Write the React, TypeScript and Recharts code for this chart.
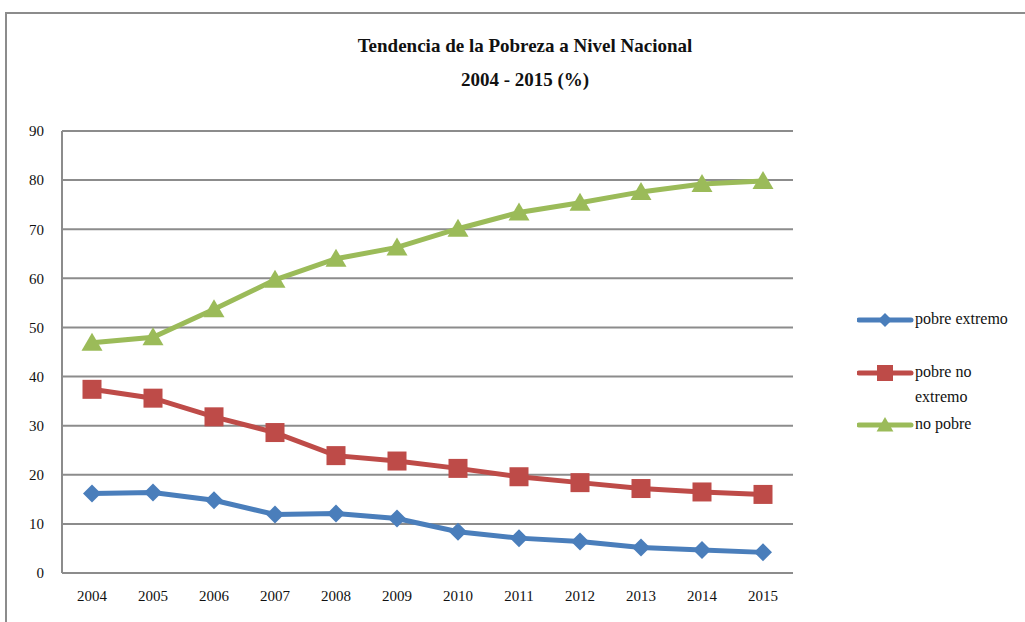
import React from "react";
import { LineChart, Line, XAxis, YAxis, CartesianGrid } from "recharts";

const years = ["2004", "2005", "2006", "2007", "2008", "2009", "2010", "2011", "2012", "2013", "2014", "2015"];
const pobreExtremo = [16.2, 16.4, 14.8, 11.9, 12.1, 11.1, 8.4, 7.1, 6.4, 5.2, 4.7, 4.2];
const pobreNoExtremo = [37.4, 35.6, 31.8, 28.6, 23.9, 22.8, 21.3, 19.6, 18.4, 17.2, 16.5, 16.0];
const noPobre = [46.9, 48.0, 53.7, 59.7, 64.0, 66.3, 70.1, 73.4, 75.4, 77.6, 79.2, 79.8];
const yTicks = [0, 10, 20, 30, 40, 50, 60, 70, 80, 90];

const BLUE = "#4A7EBB";
const RED = "#BE4B48";
const GREEN = "#9BBB59";
const GRID = "#8C8C8C";
const FONT = "'Liberation Serif', 'DejaVu Serif', serif";

const data = years.map((year, i) => ({
  year,
  extremo: pobreExtremo[i],
  noExtremo: pobreNoExtremo[i],
  noPobre: noPobre[i],
}));

// marker shapes, same ones reused in the legend
const diamond = (cx: number, cy: number, r: number, fill: string) => (
  <path d={`M${cx},${cy - r} L${cx + r},${cy} L${cx},${cy + r} L${cx - r},${cy} Z`} fill={fill} />
);
const square = (cx: number, cy: number, r: number, fill: string) => (
  <rect x={cx - r} y={cy - r} width={r * 2} height={r * 2} fill={fill} />
);
const triangle = (cx: number, cy: number, r: number, fill: string) => (
  <path d={`M${cx},${cy - r} L${cx + r * 1.05},${cy + r * 0.8} L${cx - r * 1.05},${cy + r * 0.8} Z`} fill={fill} />
);

const makeDot = (shape: typeof diamond, r: number, fill: string) => (p: any) => (
  <g key={`d-${p.index}`}>{shape(p.cx, p.cy, r, fill)}</g>
);

const LegendItem = ({ top, color, shape, r, lines }: any) => (
  <div style={{ position: "absolute", left: 857, top, height: 0 }}>
    <svg width={58} height={24} style={{ position: "absolute", left: 0, top: -12 }}>
      <line x1={2} y1={12} x2={54} y2={12} stroke={color} strokeWidth={5} strokeLinecap="round" />
      {shape(28, 12, r, color)}
    </svg>
    <div style={{ position: "absolute", left: 58, top: -14, fontSize: 16, lineHeight: "25px", whiteSpace: "nowrap", color: "#111" }}>
      {lines.map((l: string) => (
        <div key={l}>{l}</div>
      ))}
    </div>
  </div>
);

export default function App() {
  return (
    <div style={{ position: "absolute", left: 0, top: 0, width: 1025, height: 622, background: "#fff", fontFamily: FONT, overflow: "hidden" }}>
      <div style={{ position: "absolute", left: 5, top: 12, width: 1030, height: 620, borderTop: `2px solid ${GRID}`, borderLeft: `2px solid ${GRID}` }} />
      <div style={{ position: "absolute", left: 0, width: 1050, top: 35, textAlign: "center", fontSize: 19, fontWeight: 700, color: "#111" }}>
        Tendencia de la Pobreza a Nivel Nacional
      </div>
      <div style={{ position: "absolute", left: 0, width: 1050, top: 69, textAlign: "center", fontSize: 19, fontWeight: 700, color: "#111" }}>
        2004 - 2015 (%)
      </div>
      <div style={{ position: "absolute", left: 0, top: 0 }}>
        <LineChart width={1025} height={622} data={data} margin={{ top: 131, right: 232, bottom: 19, left: 12 }}>
          <CartesianGrid vertical={false} stroke={GRID} strokeWidth={2} />
          <XAxis
            dataKey="year"
            padding={{ left: 30, right: 30 }}
            axisLine={{ stroke: GRID, strokeWidth: 2 }}
            tickLine={false}
            tickMargin={11}
            height={30}
            tick={{ fill: "#111", fontSize: 15, fontFamily: FONT }}
          />
          <YAxis
            domain={[0, 90]}
            ticks={yTicks}
            width={50}
            axisLine={{ stroke: GRID, strokeWidth: 2 }}
            tickLine={false}
            tickMargin={12}
            tick={{ fill: "#111", fontSize: 15, fontFamily: FONT }}
          />
          <Line dataKey="extremo" stroke={BLUE} strokeWidth={5} dot={makeDot(diamond, 9, BLUE)} isAnimationActive={false} />
          <Line dataKey="noExtremo" stroke={RED} strokeWidth={5} dot={makeDot(square, 9.5, RED)} isAnimationActive={false} />
          <Line dataKey="noPobre" stroke={GREEN} strokeWidth={5} dot={makeDot(triangle, 10, GREEN)} isAnimationActive={false} />
        </LineChart>
      </div>
      <LegendItem top={320} color={BLUE} shape={diamond} r={7} lines={["pobre extremo"]} />
      <LegendItem top={373} color={RED} shape={square} r={8} lines={["pobre no", "extremo"]} />
      <LegendItem top={425} color={GREEN} shape={triangle} r={8} lines={["no pobre"]} />
    </div>
  );
}
